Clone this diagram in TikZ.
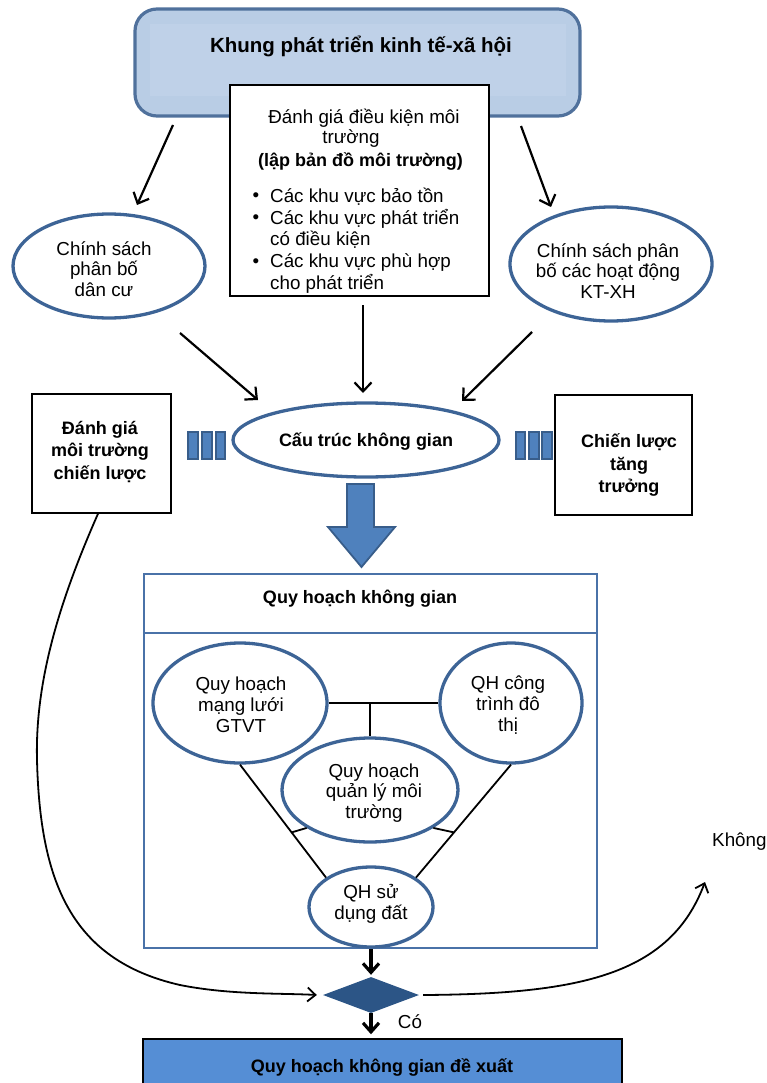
\documentclass[tikz,border=0pt]{standalone}
\usepackage{fontspec}
\setmainfont{Liberation Sans}
\usetikzlibrary{shapes.geometric,arrows.meta,calc}
\definecolor{topfill}{HTML}{B9CDE5}
\definecolor{topinner}{HTML}{BFD1E8}
\definecolor{topline}{HTML}{50719C}
\definecolor{ellline}{HTML}{3D6496}
\definecolor{frameline}{HTML}{4A72A8}
\definecolor{barfill}{HTML}{4F81BD}
\definecolor{barline}{HTML}{385D8A}
\definecolor{decfill}{HTML}{2C5586}
\definecolor{outfill}{HTML}{558ED5}
\begin{document}
\begin{tikzpicture}[x=1pt,y=-1pt,
  txt/.style={font=\fontsize{18.8}{20.8}\selectfont, inner sep=0pt, align=center},
  btxt/.style={font=\fontsize{18}{22.5}\selectfont\bfseries, inner sep=0pt, align=center},
  ell/.style={ellipse, draw=ellline, line width=3.3pt, inner sep=0pt, fill=white},
  boxed/.style={rectangle, draw=black, line width=1.5pt, fill=white, inner sep=0pt},
  arr/.style={line width=2.2pt, -{Straight Barb[length=9pt,width=17pt]}},
  thinarr/.style={line width=1.8pt, -{Straight Barb[length=8pt,width=14pt]}},
  fatarr/.style={line width=3.2pt, -{Straight Barb[length=9pt,width=16pt]}},
  link/.style={line width=1.8pt},
  bar/.style={fill=barfill, draw=barline, line width=1.5pt},
]
\useasboundingbox (0,0) rectangle (767,1083);
\clip (0,0) rectangle (767,1083);

% framework box at the top
\node[draw=topline, fill=topfill, line width=3.2pt, rounded corners=22pt,
      minimum width=445pt, minimum height=107pt, inner sep=0pt] (tb) at (357.5,62.5) {};
\fill[topinner] (150,24) rectangle (566,96);
\node[font=\fontsize{20.5}{24}\selectfont\bfseries, inner sep=0pt] (tbt) at (361,46)
  {Khung phát triển kinh tế-xã hội};

% environmental assessment box
\node[boxed, minimum width=259pt, minimum height=211pt] (cb) at (359.5,190.5) {};
\node[txt] (cb1) at (364,118) {Đánh giá điều kiện môi};
\node[txt] (cb2) at (351,139) {trường};
\node[btxt] (cb3) at (360.5,161) {(lập bản đồ môi trường)};
\node[txt] (bu1) at (256,197) {•};
\node[txt] (bu2) at (256,219) {•};
\node[txt] (bu3) at (256,263) {•};
\node[txt, anchor=west] (it1) at (270,197) {Các khu vực bảo tồn};
\node[txt, anchor=west] (it2) at (270,219) {Các khu vực phát triển};
\node[txt, anchor=west] (it2b) at (270,240) {có điều kiện};
\node[txt, anchor=west] (it3) at (270,263) {Các khu vực phù hợp};
\node[txt, anchor=west] (it3b) at (270,284) {cho phát triển};

% policy ellipses
\node[ell, minimum width=192pt, minimum height=104pt] (pop) at (109,266) {};
\node[txt] (popt) at (104,269) {Chính sách\\phân bố\\dân cư};
\node[ell, minimum width=202pt, minimum height=114pt] (eco) at (611,264) {};
\node[txt] (ecot) at (608,271) {Chính sách phân\\bố các hoạt động\\KT-XH};

% spatial structure
\node[ell, minimum width=266pt, minimum height=74pt] (cs) at (366,440) {};
\node[btxt] (cst) at (366,441) {Cấu trúc không gian};

% side boxes
\node[boxed, minimum width=139pt, minimum height=119pt] (lb) at (101.5,453.5) {};
\node[btxt] (lbt) at (100,452) {Đánh giá\\môi trường\\chiến lược};
\node[boxed, minimum width=137pt, minimum height=120pt] (rb) at (623.5,455) {};
\node[btxt] (rbt) at (629,465) {Chiến lược\\tăng\\trưởng};

% separator bars
\draw[bar] (188,432) rectangle (198,459);
\draw[bar] (202,432) rectangle (212,459);
\draw[bar] (216,432) rectangle (225,459);
\draw[bar] (516,432) rectangle (525,459);
\draw[bar] (529,432) rectangle (539,459);
\draw[bar] (542,432) rectangle (552,459);

% arrows into the ellipses
\coordinate (s1) at (173,125); \coordinate (e1) at (137,205);
\coordinate (s2) at (521,126); \coordinate (e2) at (551,207);
\draw[arr] (s1) -- (e1);
\draw[arr] (s2) -- (e2);
\coordinate (e3) at (258,400); \coordinate (s3) at (180,333);
\coordinate (e4) at (363,393); \coordinate (s4) at (363,305);
\coordinate (e5) at (462,401); \coordinate (s5) at (532,332);
\draw[arr] (s3) -- (e3);
\draw[arr] (s4) -- (e4);
\draw[arr] (s5) -- (e5);

% block arrow
\draw[fill=barfill, draw=barline, line width=1.8pt, line join=miter]
  (347,484) -- (374,484) -- (374,527) -- (395,527) -- (361.5,567) -- (328,527) -- (347,527) -- cycle;

% spatial planning frame
\node[rectangle, draw=frameline, line width=2.5pt, minimum width=453pt, minimum height=374pt,
      inner sep=0pt] (qh) at (370.5,761) {};
\draw[draw=frameline, line width=2.5pt] ([yshift=-60pt]qh.north west) -- ([yshift=-60pt]qh.north east);
\node[btxt] (qht) at (360,599) {Quy hoạch không gian};

\node[ell, minimum width=174pt, minimum height=120pt] (gt) at (240,703) {};
\node[txt] (gtt) at (241,705) {Quy hoạch\\mạng lưới\\GTVT};
\node[ell, minimum width=142pt, minimum height=120pt] (ct) at (511,703) {};
\node[txt] (ctt) at (508,705) {QH công\\trình đô\\thị};
\node[ell, minimum width=176pt, minimum height=104pt] (mt) at (370,790) {};
\node[txt] (mtt) at (374,793) {Quy hoạch\\quản lý môi\\trường};
\node[ell, minimum width=124pt, minimum height=80pt] (sd) at (371,907) {};
\node[txt] (sdt) at (371,904) {QH sử\\dụng đất};

\draw[link] (gt.east) -- (ct.west);
\draw[link] (gt.east -| mt.north) -- (mt.north);
\draw[link] (gt.south) -- (sd.north west);
\draw[link] (ct.south) -- (sd.north east);
\draw[link] ($(gt.south)!0.6!(sd.north west)$) -- (mt.south west);
\draw[link] ($(ct.south)!0.6!(sd.north east)$) -- (mt.south east);

% decision and result
\node[diamond, fill=decfill, minimum width=96pt, minimum height=36pt, aspect=2.67,
      inner sep=0pt] (dm) at (371,995) {};
\node[rectangle, draw=black, line width=1.5pt, fill=outfill, minimum width=479pt,
      minimum height=62pt, inner sep=0pt] (bx) at (382.5,1070) {};
\node[btxt] (bxt) at (382,1067) {Quy hoạch không gian đề xuất};

\draw[fatarr, shorten >=2pt] (dm.north |- qh.south) -- (dm.north);
\draw[fatarr] (dm.south) -- ([yshift=4pt]bx.north -| dm.south);
\node[txt] (co) at (410,1022) {Có};

\draw[thinarr] ([xshift=-3.5pt]lb.south) .. controls (60,600) and (35,680) .. (37,760)
  .. controls (40,880) and (70,960) .. (180,985)
  .. controls (230,995) and (280,993) .. ([xshift=-6pt]dm.west);

\coordinate (kn) at (705,882);
\draw[thinarr] ([xshift=4pt]dm.east) .. controls (580,994) and (670,975) .. (kn);
\node[txt, anchor=west] (khong) at (712,842) {Không};

\end{tikzpicture}
\end{document}
